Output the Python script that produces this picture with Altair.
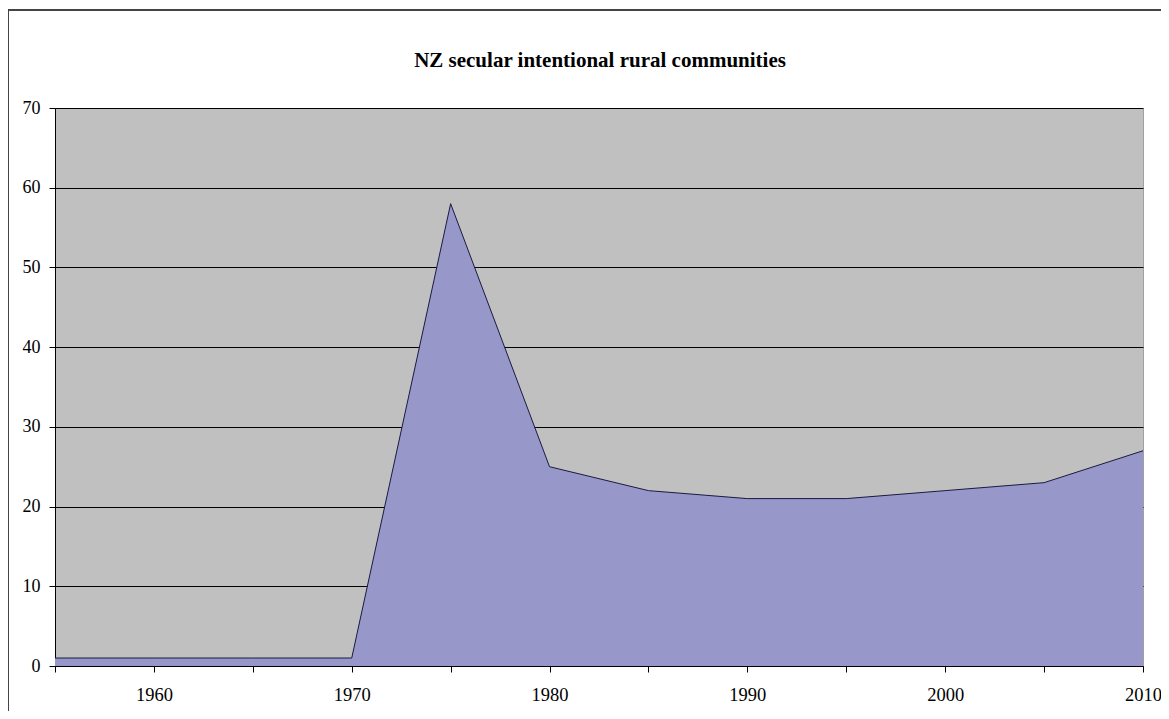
import altair as alt
import pandas as pd

years = [1955, 1960, 1965, 1970, 1975, 1980, 1985, 1990, 1995, 2000, 2005, 2010]
counts = [1, 1, 1, 1, 58, 25, 22, 21, 21, 22, 23, 27]
x_ticks = [1955, 1960, 1965, 1970, 1975, 1980, 1985, 1990, 1995, 2000, 2005, 2010]
y_ticks = [0, 10, 20, 30, 40, 50, 60, 70]

df = pd.DataFrame({"year": years, "count": counts})

FONT = "Liberation Serif"

x_enc = alt.X(
    "year:Q",
    scale=alt.Scale(domain=[1955, 2010], nice=False, zero=False),
    axis=alt.Axis(
        values=x_ticks,
        labelExpr="datum.value % 10 == 0 ? datum.value : ''",
        grid=False,
        domainColor="#000000",
        tickColor="#000000",
        tickSize=6,
        labelFont=FONT,
        labelFontSize=18.5,
        labelColor="#000000",
        labelPadding=13,
        labelFlush=False,
        title=None,
    ),
)
y_enc = alt.Y(
    "count:Q",
    scale=alt.Scale(domain=[0, 70], nice=False),
    axis=alt.Axis(
        values=y_ticks,
        grid=True,
        gridColor="#000000",
        gridOpacity=1,
        gridWidth=1,
        domainColor="#000000",
        tickColor="#000000",
        tickSize=6,
        labelFont=FONT,
        labelFontSize=18,
        labelColor="#000000",
        labelPadding=9,
        title=None,
    ),
)

area = alt.Chart(df).mark_area(
    color="#9797CA",
    opacity=1,
    line={"color": "#1a1a40", "strokeWidth": 1},
).encode(x=x_enc, y=y_enc)

frame_top = alt.Chart(df).mark_rule(color="#444444", strokeWidth=2).encode(
    x=alt.value(-47), x2=alt.value(1120), y=alt.value(-98)
)
frame_left = alt.Chart(df).mark_rule(color="#444444", strokeWidth=2).encode(
    x=alt.value(-47), y=alt.value(-98), y2=alt.value(620)
)

chart = alt.layer(area, frame_top, frame_left).properties(
    width=1088,
    height=558,
    padding={"left": 47, "top": 100, "right": 18, "bottom": 45},
    autosize=alt.AutoSizeParams(type="none"),
    title=alt.TitleParams(
        "NZ secular intentional rural communities",
        font=FONT,
        fontSize=21,
        fontWeight="bold",
        color="#000000",
        anchor="middle",
        offset=-62,
        dx=1,
    ),
).configure(
    background="white",
).configure_view(
    fill="#C0C0C0",
    stroke="#A0A0A0",
    strokeWidth=1,
)

chart.save("out.html", embed_options={"renderer": "svg", "actions": False})
